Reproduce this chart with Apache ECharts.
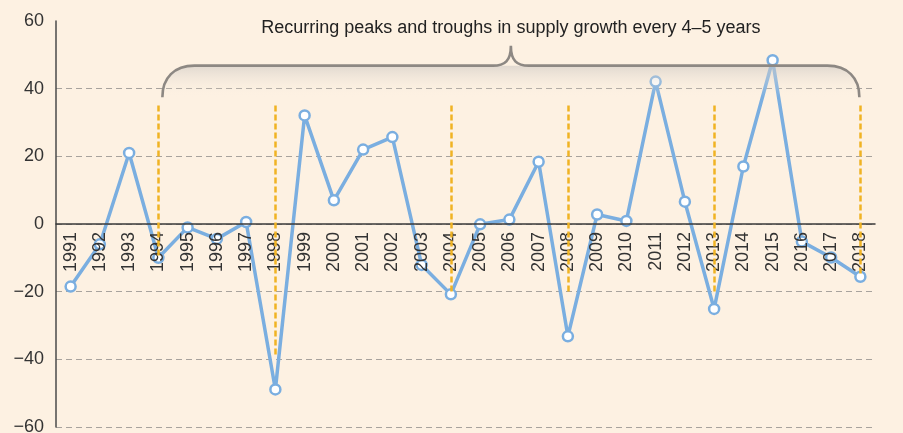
<!DOCTYPE html>
<html>
<head>
<meta charset="utf-8">
<script src="https://cdn.jsdelivr.net/npm/echarts@6/dist/echarts.min.js"></script>
<style>
html,body{margin:0;padding:0;background:#fdf1e2;}
#chart{width:903px;height:433px;}
</style>
</head>
<body>
<div id="chart"></div>
<script>
// data
var years = ['1991','1992','1993','1994','1995','1996','1997','1998','1999','2000',
    '2001','2002','2003','2004','2005','2006','2007','2008','2009','2010',
    '2011','2012','2013','2014','2015','2016','2017','2018'];
var growth = [-18.5, -6, 21, -10, -1, -4.4, 0.6, -48.9, 32.1, 7,
    22, 25.7, -12.1, -20.8, -0.1, 1.3, 18.4, -33.2, 2.8, 0.9,
    42.1, 6.6, -25.1, 17, 48.4, -5.2, -9.9, -15.6];
// cycle markers (dashed orange lines)
var cycleYears = ['1994','1998','2004','2008','2013','2018'];
var cycleLow = [-10, -39, -20, -20, -20, -15];
var cycleTop = 35;
// bracket over the cycle span
var braceFrom = '1994', braceTo = '2018';
var braceTopVal = 46.8, braceEndVal = 37.5, noteVal = 57.8;
var noteText = 'Recurring peaks and troughs in supply growth every 4\u20135 years';

var chart = echarts.init(document.getElementById('chart'));

var markData = [];
for (var i = 0; i < cycleYears.length; i++) {
    markData.push([{coord: [cycleYears[i], cycleTop]}, {coord: [cycleYears[i], cycleLow[i]]}]);
}

function renderBrace(params, api) {
    var xL = api.coord([braceFrom, 0])[0] + 4;
    var xR = api.coord([braceTo, 0])[0] - 1;
    var yTop = api.coord([braceFrom, braceTopVal])[1];
    var yEnd = api.coord([braceFrom, braceEndVal])[1];
    var yNote = api.coord([braceFrom, noteVal])[1];
    var mid = (xL + xR) / 2;
    var r = 32;
    var left = 'M' + xL + ',' + yEnd + ' C' + xL + ',' + (yTop + 12) + ' ' + (xL + 12) + ',' + yTop + ' ' + (xL + r) + ',' + yTop;
    var right = ' L' + (xR - r) + ',' + yTop + ' C' + (xR - 12) + ',' + yTop + ' ' + xR + ',' + (yTop + 12) + ' ' + xR + ',' + yEnd;
    var bump = ' L' + (mid - 18) + ',' + yTop +
        ' C' + (mid - 6) + ',' + yTop + ' ' + mid + ',' + (yTop - 5) + ' ' + mid + ',' + (yTop - 20) +
        ' C' + mid + ',' + (yTop - 5) + ' ' + (mid + 6) + ',' + yTop + ' ' + (mid + 18) + ',' + yTop;
    return {
        type: 'group',
        children: [
            {
                type: 'path',
                shape: {pathData: left + right + ' Z'},
                style: {
                    stroke: 'none',
                    fill: {
                        type: 'linear', x: 0, y: 0, x2: 0, y2: 1,
                        colorStops: [
                            {offset: 0, color: 'rgba(205,200,195,0.6)'},
                            {offset: 1, color: 'rgba(253,241,226,0)'}
                        ]
                    }
                }
            },
            {
                type: 'path',
                shape: {pathData: left + bump + right},
                style: {stroke: '#8d8883', lineWidth: 2.6, fill: 'none'}
            },
            {
                type: 'text',
                x: mid, y: yNote,
                style: {
                    text: noteText, fill: '#222', fontSize: 18,
                    fontFamily: 'Liberation Sans',
                    align: 'center', verticalAlign: 'middle'
                }
            }
        ]
    };
}

var option = {
    backgroundColor: '#fdf1e2',
    animation: false,
    grid: {left: 56, right: 28, top: 21, bottom: 6, outerBoundsMode: 'none'},
    xAxis: {
        type: 'category',
        data: years,
        z: 3,
        boundaryGap: true,
        position: 'bottom',
        offset: 0,
        axisLine: {onZero: false, lineStyle: {color: '#3a3a3a', width: 1.5}},
        axisTick: {show: false},
        axisLabel: {rotate: 90, margin: 8, fontSize: 18, color: '#333', fontFamily: 'Liberation Sans'}
    },
    yAxis: {
        type: 'value',
        min: -60,
        max: 60,
        interval: 20,
        axisLine: {show: true, lineStyle: {color: '#4a4a4a', width: 1.5}},
        axisTick: {show: false},
        axisLabel: {
            margin: 12, fontSize: 18, color: '#333', fontFamily: 'Liberation Sans',
            formatter: function (v) { return String(v).replace('-', '\u2212'); }
        },
        splitLine: {
            show: true,
            showMaxLine: false,
            lineStyle: {color: '#a8a39d', type: [6, 4], width: 1}
        }
    },
    series: [
        {
            type: 'line',
            data: growth,
            z: 2,
            symbol: 'circle',
            symbolSize: 10,
            lineStyle: {color: '#7aaee0', width: 3.5},
            itemStyle: {color: '#fff', borderColor: '#7aaee0', borderWidth: 2.5},
            markLine: {
                silent: true,
                symbol: 'none',
                label: {show: false},
                lineStyle: {color: '#f0b323', type: [6, 3], width: 2.5},
                data: markData
            }
        },
        {
            type: 'custom',
            z: 5,
            silent: true,
            clip: false,
            renderItem: renderBrace,
            data: [0]
        }
    ]
};
chart.setOption(option);

// move the category axis up to the zero line
var yZero = chart.convertToPixel({yAxisIndex: 0}, 0);
var yMin = chart.convertToPixel({yAxisIndex: 0}, -60);
chart.setOption({xAxis: {offset: -(yMin - yZero)}});
</script>
</body>
</html>
